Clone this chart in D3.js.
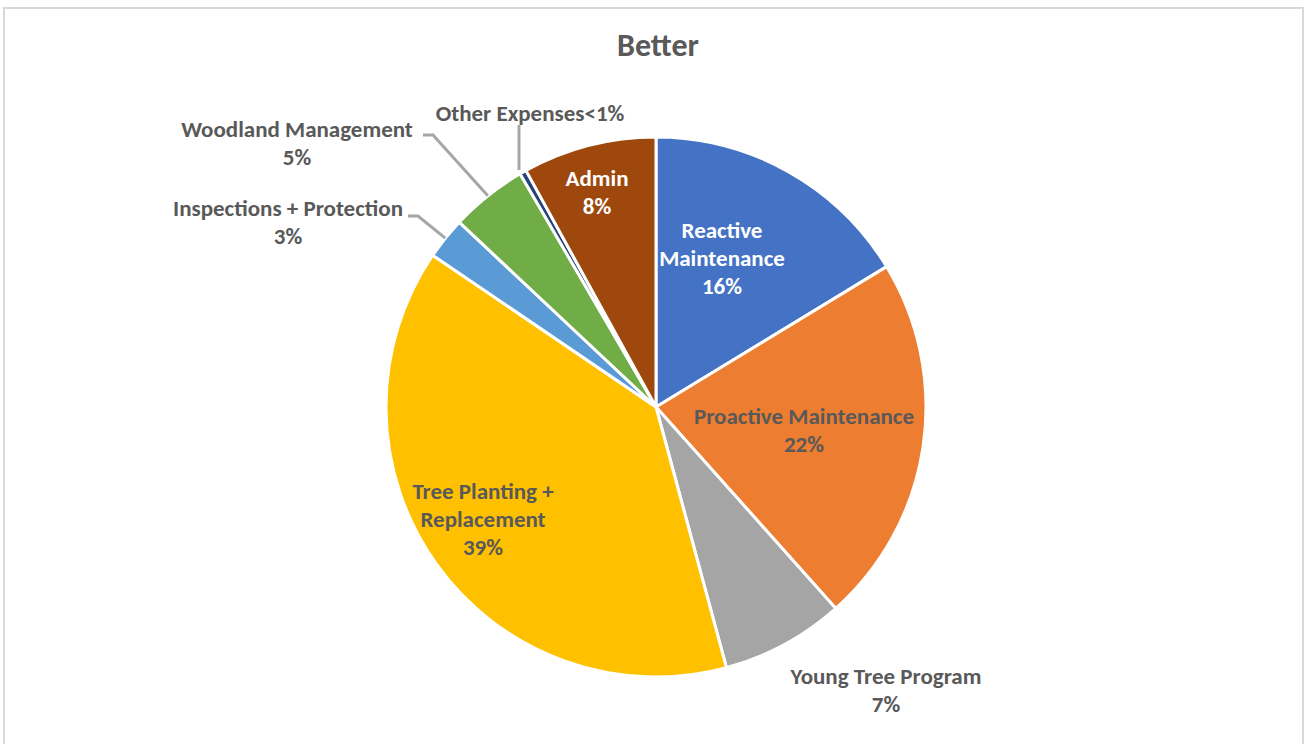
<!DOCTYPE html>
<html>
<head>
<meta charset="utf-8">
<script src="https://cdn.jsdelivr.net/npm/d3@7"></script>
<style>
  body { margin: 0; background: #fff; }
  text { font-family: Calibri, Carlito, Lato, sans-serif; font-weight: bold; }
</style>
</head>
<body>
<svg></svg>
<script>
const width = 1307;
const height = 744;
const cx = 656;
const cy = 407;
const radius = 270;

// slices, clockwise from 12 o'clock
const categories = ["Reactive Maintenance", "Proactive Maintenance", "Young Tree Program",
    "Tree Planting + Replacement", "Inspections + Protection", "Woodland Management",
    "Other Expenses", "Admin"];
const shares = [16.3, 22.1, 7.4, 38.7, 2.5, 4.6, 0.4, 8.0];
const colors = ["#4472c4", "#ed7d31", "#a5a5a5", "#ffc000", "#5b9bd5", "#70ad47", "#264478", "#9e480e"];
// how each label is broken into lines (last line is the percentage)
const labelLines = [["Reactive", "Maintenance"], ["Proactive Maintenance"], ["Young Tree Program"],
    ["Tree Planting +", "Replacement"], ["Inspections + Protection"], ["Woodland Management"],
    ["Other Expenses<1%"], ["Admin"]];
const labelColors = ["#fff", "#595959", "#595959", "#595959", "#595959", "#595959", "#595959", "#fff"];
// label block centre, relative to the pie centre
const labelOffsets = [[66, -149], [148, 23], [230, 283], [-173, 112], [-368, -185], [-359, -264], [-126, -294], [-59, -215]];
// where the leader line meets the label (relative to the pie centre), null = no leader
const leaderEnds = [null, null, null, null, [[-238, -191], [-248, -191]], [[-223, -272], [-233, -272]], [[-137, -282]], null];

let svg = d3.select("svg")
    .attr("width", width)
    .attr("height", height);

// chart border
svg.append("rect")
    .attr("x", 4).attr("y", 8)
    .attr("width", 1299).attr("height", 760)
    .attr("fill", "none")
    .attr("stroke", "#d9d9d9")
    .attr("stroke-width", 2);

svg.append("text")
    .attr("x", 658).attr("y", 56)
    .attr("text-anchor", "middle")
    .attr("font-size", 32)
    .attr("fill", "#595959")
    .text("Better");

const data = categories.map((c, i) => ({ name: c, value: shares[i], i: i }));
const pie = d3.pie().sort(null).value(d => d.value);
const arcs = pie(data);
const arc = d3.arc().innerRadius(0).outerRadius(radius);

let g = svg.append("g").attr("transform", `translate(${cx}, ${cy})`);

g.selectAll("path")
    .data(arcs)
    .enter()
    .append("path")
    .attr("d", arc)
    .attr("fill", d => colors[d.data.i])
    .attr("stroke", "#fff")
    .attr("stroke-width", 3)
    .attr("stroke-linejoin", "round");

// leader lines for the small outside slices
arcs.filter(d => leaderEnds[d.data.i]).forEach(d => {
    const mid = (d.startAngle + d.endAngle) / 2;
    const px = radius * Math.sin(mid);
    const py = -radius * Math.cos(mid);
    const ends = leaderEnds[d.data.i];
    let pts;
    if (ends.length === 1) {
        // vertical leader
        pts = [[ends[0][0], py - 2], ends[0]];
    } else {
        pts = [[px, py]].concat(ends);
    }
    g.append("path")
        .attr("d", d3.line()(pts))
        .attr("fill", "none")
        .attr("stroke", "#a6a6a6")
        .attr("stroke-width", 3);
});

const lineH = 27.8;
arcs.forEach(d => {
    const i = d.data.i;
    const lines = labelLines[i].slice();
    if (i !== 6) {
        lines.push(Math.round(shares[i]) + "%");
    }
    const [lx, ly] = labelOffsets[i];
    const t = g.append("text")
        .attr("text-anchor", "middle")
        .attr("font-size", 23)
        .attr("fill", labelColors[i]);
    lines.forEach((s, k) => {
        t.append("tspan")
            .attr("x", lx)
            .attr("y", ly + (k - (lines.length - 1) / 2) * lineH + 8)
            .text(s);
    });
});
</script>
</body>
</html>
